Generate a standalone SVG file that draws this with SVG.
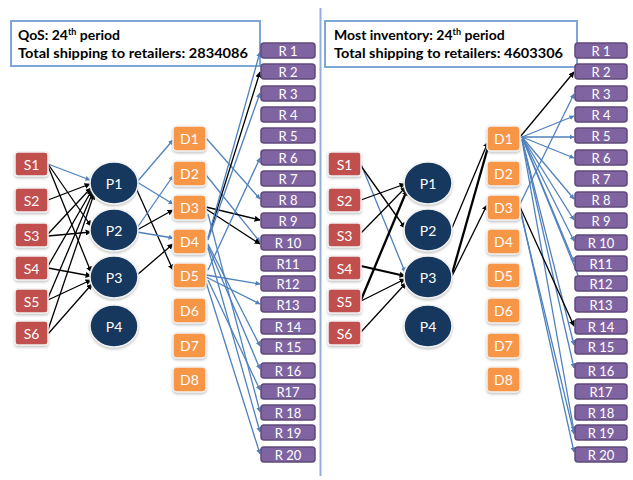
<svg xmlns="http://www.w3.org/2000/svg" width="633" height="480" viewBox="0 0 633 480">
<defs>
<marker id="ab" viewBox="0 0 10 10" refX="9" refY="5" markerWidth="5" markerHeight="5" orient="auto" markerUnits="userSpaceOnUse"><path d="M0,0 L10,5 L0,10 z" fill="#4f81bd"/></marker>
<marker id="ak" viewBox="0 0 10 10" refX="9" refY="5" markerWidth="6" markerHeight="6" orient="auto" markerUnits="userSpaceOnUse"><path d="M0,0 L10,5 L0,10 z" fill="#000"/></marker>
<filter id="sh" x="-20%" y="-20%" width="140%" height="150%"><feDropShadow dx="0" dy="1.5" stdDeviation="1" flood-color="#888" flood-opacity="0.5"/></filter>
</defs>
<style>
.s{fill:#c0504d;stroke:#f2f2f2;stroke-width:1.5;filter:url(#sh)}
.p{fill:#17375e;stroke:#f2f2f2;stroke-width:1.5;filter:url(#sh)}
.d{fill:#f79646;stroke:#f2f2f2;stroke-width:1.5;filter:url(#sh)}
.r{fill:#8064a2;stroke:#5f497a;stroke-width:1.5}
.t{font-family:Lato,"Liberation Sans",sans-serif;fill:#fff;font-size:14px;text-anchor:middle;dominant-baseline:central}
.rt{font-family:Lato,"Liberation Sans",sans-serif;fill:#fff;font-size:13px;text-anchor:middle;dominant-baseline:central}
.ttl{fill:#fff;stroke:#7ea6d8;stroke-width:2}
.tt{font-family:Lato,"Liberation Sans",sans-serif;font-weight:bold;font-size:14px;fill:#000}
.b{stroke:#4f81bd;stroke-width:1.3;fill:none;marker-end:url(#ab)}
.k{stroke:#000;stroke-width:1.3;fill:none;marker-end:url(#ak)}
.kk{stroke:#000;stroke-width:2.3;fill:none;marker-end:url(#ak)}
</style>
<rect width="633" height="480" fill="#fff"/>
<line x1="320.5" y1="8" x2="320.5" y2="476" stroke="#8fb0dc" stroke-width="2"/>

<g id="title-left"><rect class="ttl" x="11" y="21" width="249" height="45"/>
<text class="tt" x="18" y="40">QoS: 24<tspan font-size="9" dy="-5">th</tspan><tspan dy="5"> period</tspan></text>
<text class="tt" x="18" y="58" textLength="230" lengthAdjust="spacingAndGlyphs">Total shipping to retailers: 2834086</text></g>
<g id="title-right"><rect class="ttl" x="325" y="21" width="252" height="46"/>
<text class="tt" x="334" y="40">Most inventory: 24<tspan font-size="9" dy="-5">th</tspan><tspan dy="5"> period</tspan></text>
<text class="tt" x="334" y="58" textLength="229" lengthAdjust="spacingAndGlyphs">Total shipping to retailers: 4603306</text></g>

<g id="connectors">
<line class="b" x1="48" y1="164" x2="90" y2="180"/>
<line class="k" x1="48" y1="164" x2="91" y2="226"/>
<line class="k" x1="48" y1="166" x2="91" y2="272"/>
<line class="k" x1="48" y1="200" x2="90" y2="184"/>
<line class="k" x1="48" y1="234" x2="91" y2="188"/>
<line class="k" x1="48" y1="236" x2="91" y2="232"/>
<line class="k" x1="48" y1="266" x2="92" y2="190"/>
<line class="k" x1="48" y1="268" x2="91" y2="276"/>
<line class="k" x1="48" y1="298" x2="93" y2="192"/>
<line class="k" x1="48" y1="300" x2="91" y2="280"/>
<line class="k" x1="48" y1="330" x2="94" y2="194"/>
<line class="k" x1="48" y1="334" x2="92" y2="284"/>
<line class="b" x1="137" y1="182" x2="173" y2="140"/>
<line class="b" x1="137" y1="182" x2="173" y2="204"/>
<line class="k" x1="136" y1="188" x2="173" y2="270"/>
<line class="b" x1="137" y1="228" x2="173" y2="176"/>
<line class="k" x1="137" y1="230" x2="173" y2="210"/>
<line class="b" x1="137" y1="232" x2="173" y2="238"/>
<line class="k" x1="137" y1="275" x2="173" y2="244"/>
<line class="b" x1="206" y1="138" x2="260" y2="199"/>
<line class="b" x1="206" y1="175" x2="260" y2="242"/>
<line class="k" x1="206" y1="207" x2="260" y2="220"/>
<line class="k" x1="206" y1="209" x2="260" y2="244"/>
<line class="k" x1="210" y1="232" x2="260" y2="72"/>
<line class="b" x1="208" y1="238" x2="260" y2="52"/>
<line class="b" x1="208" y1="240" x2="260" y2="93"/>
<line class="b" x1="208" y1="270" x2="260" y2="158"/>
<line class="b" x1="206" y1="275" x2="260" y2="284"/>
<line class="b" x1="206" y1="277" x2="260" y2="304"/>
<line class="b" x1="208" y1="244" x2="260" y2="346"/>
<line class="b" x1="208" y1="246" x2="260" y2="369"/>
<line class="b" x1="208" y1="280" x2="260" y2="390"/>
<line class="b" x1="208" y1="248" x2="260" y2="432"/>
<line class="b" x1="206" y1="282" x2="260" y2="454"/>
<line class="b" x1="208" y1="214" x2="260" y2="412"/>
<line class="b" x1="361" y1="164" x2="405" y2="272"/>
<line class="k" x1="361" y1="166" x2="405" y2="228"/>
<line class="k" x1="361" y1="200" x2="405" y2="184"/>
<line class="k" x1="361" y1="233" x2="406" y2="187"/>
<line class="kk" x1="361" y1="266" x2="405" y2="276"/>
<line class="kk" x1="361" y1="300" x2="407" y2="190"/>
<line class="k" x1="361" y1="301" x2="405" y2="279"/>
<line class="k" x1="361" y1="332" x2="406" y2="283"/>
<line class="k" x1="452" y1="228" x2="488" y2="142"/>
<line class="kk" x1="452" y1="274" x2="490" y2="140"/>
<line class="k" x1="452" y1="276" x2="487" y2="205"/>
<line class="k" x1="520" y1="137" x2="574" y2="72"/>
<line class="b" x1="522" y1="137" x2="574" y2="116"/>
<line class="b" x1="522" y1="137" x2="574" y2="137"/>
<line class="b" x1="522" y1="137" x2="574" y2="158"/>
<line class="b" x1="522" y1="137" x2="574" y2="199"/>
<line class="b" x1="522" y1="137" x2="574" y2="220"/>
<line class="b" x1="522" y1="137" x2="574" y2="241"/>
<line class="b" x1="522" y1="137" x2="574" y2="262"/>
<line class="b" x1="522" y1="137" x2="584" y2="290"/>
<line class="b" x1="522" y1="139" x2="574" y2="345"/>
<line class="b" x1="522" y1="139" x2="574" y2="368"/>
<line class="b" x1="522" y1="140" x2="574" y2="431"/>
<line class="b" x1="520" y1="204" x2="574" y2="94"/>
<line class="k" x1="520" y1="207" x2="574" y2="326"/>
<line class="b" x1="521" y1="212" x2="574" y2="452"/>
<line class="b" x1="521" y1="214" x2="574" y2="434"/>
</g>

<g id="L-S1"><rect class="s" x="15" y="152" width="33" height="24" rx="3"/><text class="t" x="31.5" y="164">S1</text></g>
<g id="L-S2"><rect class="s" x="15" y="188" width="33" height="24" rx="3"/><text class="t" x="31.5" y="200">S2</text></g>
<g id="L-S3"><rect class="s" x="15" y="223" width="33" height="24" rx="3"/><text class="t" x="31.5" y="235">S3</text></g>
<g id="L-S4"><rect class="s" x="15" y="256" width="33" height="24" rx="3"/><text class="t" x="31.5" y="268">S4</text></g>
<g id="L-S5"><rect class="s" x="15" y="289" width="33" height="24" rx="3"/><text class="t" x="31.5" y="301">S5</text></g>
<g id="L-S6"><rect class="s" x="15" y="321" width="33" height="24" rx="3"/><text class="t" x="31.5" y="333">S6</text></g>
<g id="L-P1"><ellipse class="p" cx="114" cy="183" rx="24" ry="21"/><text class="t" x="114" y="183">P1</text></g>
<g id="L-P2"><ellipse class="p" cx="114" cy="230" rx="24" ry="21"/><text class="t" x="114" y="230">P2</text></g>
<g id="L-P3"><ellipse class="p" cx="114" cy="277" rx="24" ry="21"/><text class="t" x="114" y="277">P3</text></g>
<g id="L-P4"><ellipse class="p" cx="114" cy="326" rx="24" ry="21"/><text class="t" x="114" y="326">P4</text></g>
<g id="L-D1"><rect class="d" x="173" y="126" width="33" height="25" rx="4"/><text class="t" x="189.5" y="138.5">D1</text></g>
<g id="L-D2"><rect class="d" x="173" y="161" width="33" height="25" rx="4"/><text class="t" x="189.5" y="173.5">D2</text></g>
<g id="L-D3"><rect class="d" x="173" y="195" width="33" height="25" rx="4"/><text class="t" x="189.5" y="207.5">D3</text></g>
<g id="L-D4"><rect class="d" x="173" y="229" width="33" height="25" rx="4"/><text class="t" x="189.5" y="241.5">D4</text></g>
<g id="L-D5"><rect class="d" x="173" y="263" width="33" height="25" rx="4"/><text class="t" x="189.5" y="275.5">D5</text></g>
<g id="L-D6"><rect class="d" x="173" y="298" width="33" height="25" rx="4"/><text class="t" x="189.5" y="310.5">D6</text></g>
<g id="L-D7"><rect class="d" x="173" y="333" width="33" height="25" rx="4"/><text class="t" x="189.5" y="345.5">D7</text></g>
<g id="L-D8"><rect class="d" x="173" y="367" width="33" height="25" rx="4"/><text class="t" x="189.5" y="379.5">D8</text></g>
<g id="L-R1"><rect class="r" x="261" y="43" width="54" height="15" rx="3"/><text class="rt" x="288" y="50.5">R 1</text></g>
<g id="L-R2"><rect class="r" x="261" y="64" width="54" height="15" rx="3"/><text class="rt" x="288" y="71.5">R 2</text></g>
<g id="L-R3"><rect class="r" x="261" y="86" width="54" height="15" rx="3"/><text class="rt" x="288" y="93.5">R 3</text></g>
<g id="L-R4"><rect class="r" x="261" y="107" width="54" height="15" rx="3"/><text class="rt" x="288" y="114.5">R 4</text></g>
<g id="L-R5"><rect class="r" x="261" y="128" width="54" height="15" rx="3"/><text class="rt" x="288" y="135.5">R 5</text></g>
<g id="L-R6"><rect class="r" x="261" y="150" width="54" height="15" rx="3"/><text class="rt" x="288" y="157.5">R 6</text></g>
<g id="L-R7"><rect class="r" x="261" y="171" width="54" height="15" rx="3"/><text class="rt" x="288" y="178.5">R 7</text></g>
<g id="L-R8"><rect class="r" x="261" y="192" width="54" height="15" rx="3"/><text class="rt" x="288" y="199.5">R 8</text></g>
<g id="L-R9"><rect class="r" x="261" y="213" width="54" height="15" rx="3"/><text class="rt" x="288" y="220.5">R 9</text></g>
<g id="L-R10"><rect class="r" x="261" y="235" width="54" height="15" rx="3"/><text class="rt" x="288" y="242.5">R 10</text></g>
<g id="L-R11"><rect class="r" x="261" y="256" width="54" height="15" rx="3"/><text class="rt" x="288" y="263.5">R11</text></g>
<g id="L-R12"><rect class="r" x="261" y="276" width="54" height="15" rx="3"/><text class="rt" x="288" y="283.5">R12</text></g>
<g id="L-R13"><rect class="r" x="261" y="297" width="54" height="15" rx="3"/><text class="rt" x="288" y="304.5">R13</text></g>
<g id="L-R14"><rect class="r" x="261" y="319" width="54" height="15" rx="3"/><text class="rt" x="288" y="326.5">R 14</text></g>
<g id="L-R15"><rect class="r" x="261" y="339" width="54" height="15" rx="3"/><text class="rt" x="288" y="346.5">R 15</text></g>
<g id="L-R16"><rect class="r" x="261" y="363" width="54" height="15" rx="3"/><text class="rt" x="288" y="370.5">R 16</text></g>
<g id="L-R17"><rect class="r" x="261" y="384" width="54" height="15" rx="3"/><text class="rt" x="288" y="391.5">R17</text></g>
<g id="L-R18"><rect class="r" x="261" y="405" width="54" height="15" rx="3"/><text class="rt" x="288" y="412.5">R 18</text></g>
<g id="L-R19"><rect class="r" x="261" y="425" width="54" height="15" rx="3"/><text class="rt" x="288" y="432.5">R 19</text></g>
<g id="L-R20"><rect class="r" x="261" y="447" width="54" height="15" rx="3"/><text class="rt" x="288" y="454.5">R 20</text></g>

<g id="R-S1"><rect class="s" x="328" y="152" width="33" height="24" rx="3"/><text class="t" x="344.5" y="164">S1</text></g>
<g id="R-S2"><rect class="s" x="328" y="188" width="33" height="24" rx="3"/><text class="t" x="344.5" y="200">S2</text></g>
<g id="R-S3"><rect class="s" x="328" y="223" width="33" height="24" rx="3"/><text class="t" x="344.5" y="235">S3</text></g>
<g id="R-S4"><rect class="s" x="328" y="256" width="33" height="24" rx="3"/><text class="t" x="344.5" y="268">S4</text></g>
<g id="R-S5"><rect class="s" x="328" y="289" width="33" height="24" rx="3"/><text class="t" x="344.5" y="301">S5</text></g>
<g id="R-S6"><rect class="s" x="328" y="321" width="33" height="24" rx="3"/><text class="t" x="344.5" y="333">S6</text></g>
<g id="R-P1"><ellipse class="p" cx="428" cy="183" rx="24" ry="21"/><text class="t" x="428" y="183">P1</text></g>
<g id="R-P2"><ellipse class="p" cx="428" cy="230" rx="24" ry="21"/><text class="t" x="428" y="230">P2</text></g>
<g id="R-P3"><ellipse class="p" cx="428" cy="277" rx="24" ry="21"/><text class="t" x="428" y="277">P3</text></g>
<g id="R-P4"><ellipse class="p" cx="428" cy="326" rx="24" ry="21"/><text class="t" x="428" y="326">P4</text></g>
<g id="R-D1"><rect class="d" x="487" y="126" width="33" height="25" rx="4"/><text class="t" x="503.5" y="138.5">D1</text></g>
<g id="R-D2"><rect class="d" x="487" y="161" width="33" height="25" rx="4"/><text class="t" x="503.5" y="173.5">D2</text></g>
<g id="R-D3"><rect class="d" x="487" y="195" width="33" height="25" rx="4"/><text class="t" x="503.5" y="207.5">D3</text></g>
<g id="R-D4"><rect class="d" x="487" y="229" width="33" height="25" rx="4"/><text class="t" x="503.5" y="241.5">D4</text></g>
<g id="R-D5"><rect class="d" x="487" y="263" width="33" height="25" rx="4"/><text class="t" x="503.5" y="275.5">D5</text></g>
<g id="R-D6"><rect class="d" x="487" y="298" width="33" height="25" rx="4"/><text class="t" x="503.5" y="310.5">D6</text></g>
<g id="R-D7"><rect class="d" x="487" y="333" width="33" height="25" rx="4"/><text class="t" x="503.5" y="345.5">D7</text></g>
<g id="R-D8"><rect class="d" x="487" y="367" width="33" height="25" rx="4"/><text class="t" x="503.5" y="379.5">D8</text></g>
<g id="R-R1"><rect class="r" x="575" y="43" width="52" height="15" rx="3"/><text class="rt" x="601" y="50.5">R 1</text></g>
<g id="R-R2"><rect class="r" x="575" y="64" width="52" height="15" rx="3"/><text class="rt" x="601" y="71.5">R 2</text></g>
<g id="R-R3"><rect class="r" x="575" y="86" width="52" height="15" rx="3"/><text class="rt" x="601" y="93.5">R 3</text></g>
<g id="R-R4"><rect class="r" x="575" y="107" width="52" height="15" rx="3"/><text class="rt" x="601" y="114.5">R 4</text></g>
<g id="R-R5"><rect class="r" x="575" y="128" width="52" height="15" rx="3"/><text class="rt" x="601" y="135.5">R 5</text></g>
<g id="R-R6"><rect class="r" x="575" y="150" width="52" height="15" rx="3"/><text class="rt" x="601" y="157.5">R 6</text></g>
<g id="R-R7"><rect class="r" x="575" y="171" width="52" height="15" rx="3"/><text class="rt" x="601" y="178.5">R 7</text></g>
<g id="R-R8"><rect class="r" x="575" y="192" width="52" height="15" rx="3"/><text class="rt" x="601" y="199.5">R 8</text></g>
<g id="R-R9"><rect class="r" x="575" y="213" width="52" height="15" rx="3"/><text class="rt" x="601" y="220.5">R 9</text></g>
<g id="R-R10"><rect class="r" x="575" y="235" width="52" height="15" rx="3"/><text class="rt" x="601" y="242.5">R 10</text></g>
<g id="R-R11"><rect class="r" x="575" y="256" width="52" height="15" rx="3"/><text class="rt" x="601" y="263.5">R11</text></g>
<g id="R-R12"><rect class="r" x="575" y="276" width="52" height="15" rx="3"/><text class="rt" x="601" y="283.5">R12</text></g>
<g id="R-R13"><rect class="r" x="575" y="297" width="52" height="15" rx="3"/><text class="rt" x="601" y="304.5">R13</text></g>
<g id="R-R14"><rect class="r" x="575" y="319" width="52" height="15" rx="3"/><text class="rt" x="601" y="326.5">R 14</text></g>
<g id="R-R15"><rect class="r" x="575" y="339" width="52" height="15" rx="3"/><text class="rt" x="601" y="346.5">R 15</text></g>
<g id="R-R16"><rect class="r" x="575" y="363" width="52" height="15" rx="3"/><text class="rt" x="601" y="370.5">R 16</text></g>
<g id="R-R17"><rect class="r" x="575" y="384" width="52" height="15" rx="3"/><text class="rt" x="601" y="391.5">R17</text></g>
<g id="R-R18"><rect class="r" x="575" y="405" width="52" height="15" rx="3"/><text class="rt" x="601" y="412.5">R 18</text></g>
<g id="R-R19"><rect class="r" x="575" y="425" width="52" height="15" rx="3"/><text class="rt" x="601" y="432.5">R 19</text></g>
<g id="R-R20"><rect class="r" x="575" y="447" width="52" height="15" rx="3"/><text class="rt" x="601" y="454.5">R 20</text></g>
</svg>
